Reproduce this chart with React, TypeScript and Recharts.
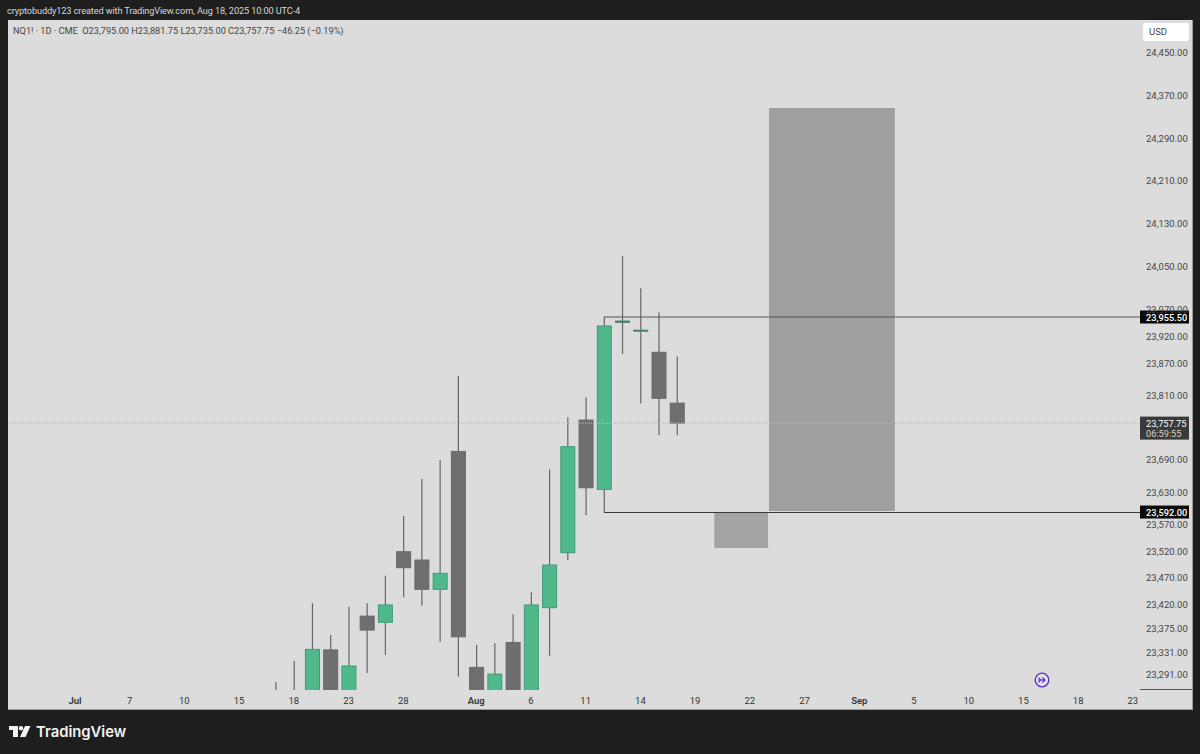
import { Bar, ComposedChart, ReferenceArea, ReferenceDot, ReferenceLine, XAxis, YAxis } from "recharts"

const FONT = "Roboto, sans-serif"

// one slot = one daily bar, slot 0 is Jul 1
const SLOTS = [11, 12, 13, 14, 15, 16, 17, 18, 19, 20, 21, 22, 23, 24, 25, 26, 27, 28, 29, 30, 31, 32, 33]
const OPENS = [23245, 23235, 23210, 23335, 23240, 23398, 23386.5, 23518, 23502.5, 23448, 23705, 23302.5, 23230, 23349, 23245, 23413.75, 23516.25, 23763.5, 23634.25, 23945.5, 23929, 23889.75, 23795]
const HIGHS = [23275, 23314.25, 23422, 23362.75, 23415.5, 23422.5, 23473.25, 23584.5, 23653.5, 23689, 23845.5, 23344, 23347.25, 23401.5, 23442.5, 23671.5, 23768.5, 23805.75, 23955.5, 24069.25, 24009, 23964.25, 23881.75]
const LOWS = [23220, 23195, 23190, 23225, 23215, 23292, 23325.5, 23433, 23417.5, 23350.25, 23285, 23200, 23215, 23215, 23230, 23324.25, 23502.5, 23586.5, 23592, 23886.5, 23794.5, 23735.5, 23735]
const CLOSES = [23235, 23225, 23336, 23240, 23305, 23372, 23418.75, 23488.25, 23448, 23477.75, 23359.5, 23235, 23290, 23240, 23418.75, 23493.25, 23713.75, 23637.25, 23938.75, 23948, 23931, 23804, 23757.75]

const X_TICKS = [0, 3, 6, 9, 12, 15, 18, 22, 25, 28, 31, 34, 37, 40, 43, 46, 49, 52, 55, 58]
const X_LABELS = ["Jul", "7", "10", "15", "18", "23", "28", "Aug", "6", "11", "14", "19", "22", "27", "Sep", "5", "10", "15", "18", "23"]
const Y_TICKS = [23291, 23331, 23375, 23420, 23470, 23520, 23570, 23630, 23690, 23810, 23870, 23920, 23970, 24050, 24130, 24210, 24290, 24370, 24450]

const X_MIN = -3.67
const X_MAX = 58.39
const Y_MIN = 23260.3
const Y_MAX = 24509.1

const LEVEL_HIGH = 23955.5
const LEVEL_LOW = 23592
const LAST_PRICE = 23757.75
const BOX_START = 29
const TARGET_ZONE = { x1: 38.05, x2: 44.95, y1: 23594, y2: 24345 }
const STOP_ZONE = { x1: 35.05, x2: 38, y1: 23525, y2: 23592 }

const candles = SLOTS.map((slot, i) => ({
  slot,
  open: OPENS[i],
  high: HIGHS[i],
  low: LOWS[i],
  close: CLOSES[i],
}))

const fmt = (v: number) => v.toLocaleString("en-US", { minimumFractionDigits: 2, maximumFractionDigits: 2 })

function Candle(props: any) {
  const { x, y, width, height, payload } = props
  const { open, high, low, close } = payload
  const top = Math.min(y, y + height)
  const unit = Math.abs(height) / (high - low)
  const yOf = (v: number) => top + (high - v) * unit
  const cx = x + width / 2
  const up = close >= open
  const bodyTop = yOf(Math.max(open, close))
  const bodyH = Math.max(1, yOf(Math.min(open, close)) - bodyTop)
  const doji = bodyH < 3
  const fill = doji ? "#4a8570" : up ? "#50b98c" : "#6f6f6f"
  const stroke = doji ? "#4a8570" : up ? "#3f9a76" : "#686868"
  return (
    <g>
      <line x1={cx} x2={cx} y1={yOf(high)} y2={yOf(low)} stroke="#666" strokeWidth={1.2} />
      <rect x={x + 0.5} y={bodyTop} width={width - 1} height={bodyH} fill={fill} stroke={stroke} strokeWidth={1} />
    </g>
  )
}

function XTick({ x, y, payload }: any) {
  const label = X_LABELS[X_TICKS.indexOf(payload.value)]
  return (
    <text x={x} y={y + 6} textAnchor="middle" fontSize={9.5} fontFamily={FONT} fill="#333" fontWeight={/[a-z]/.test(label) ? 600 : 400}>
      {label}
    </text>
  )
}

function YTick({ x, y, payload }: any) {
  return (
    <text x={x - 2} y={y + 4} fontSize={9.5} fontFamily={FONT} fill="#444">
      {fmt(payload.value)}
    </text>
  )
}

function CrispLine({ x1, x2, y1, stroke }: any) {
  const y = Math.round(y1) + 0.5
  return <line x1={x1} x2={x2} y1={y} y2={y} stroke={stroke} strokeWidth={1} />
}

function PriceTag({ cx, cy, value }: any) {
  return (
    <g fontFamily={FONT} fontSize={9.2} fontWeight={500}>
      <rect x={cx} y={cy - 6.5} width={49} height={13} fill="#0a0a0a" />
      <text x={cx + 6} y={cy + 3.5} fill="#fff">{fmt(value)}</text>
    </g>
  )
}

function LastTag({ cx, cy, value }: any) {
  return (
    <g fontFamily={FONT} fontSize={9.2}>
      <rect x={cx} y={cy - 6.5} width={49} height={23} fill="#3a3a3a" />
      <text x={cx + 6} y={cy + 3.5} fill="#fff">{fmt(value)}</text>
      <text x={cx + 6} y={cy + 13.5} fill="#d5d5d5">06:59:55</text>
    </g>
  )
}

function Logo() {
  return (
    <svg width={24} height={14} style={{ position: "absolute", left: 8, top: 725 }}>
      <path d="M1 1h9v11H5V5H1z" fill="#f2f2f2" />
      <circle cx={13} cy={3.2} r={2.2} fill="#f2f2f2" />
      <path d="M17 1h5.5L17.5 12H12z" fill="#f2f2f2" />
    </svg>
  )
}

function JumpIcon() {
  return (
    <svg width={16} height={16} style={{ position: "absolute", left: 1034, top: 672 }}>
      <circle cx={8} cy={8} r={6.8} fill="#e4e1ee" stroke="#5a35c4" strokeWidth={1.3} />
      <path d="M4.5 8h6.5M8.2 5.4L11 8 8.2 10.6M4.5 5.6L6.7 8 4.5 10.4" fill="none" stroke="#4a2ab8" strokeWidth={1.1} />
    </svg>
  )
}

export default function App() {
  return (
    <div style={{ position: "fixed", left: 0, top: 0, width: 1200, height: 754, background: "#1e1e1e", overflow: "hidden", fontFamily: FONT }}>
      <div style={{ position: "absolute", left: 7, top: 5, fontSize: 9.2, letterSpacing: -0.12, color: "#d8d8d8", whiteSpace: "nowrap" }}>
        cryptobuddy123 created with TradingView.com, Aug 18, 2025 10:00 UTC-4
      </div>
      <div style={{ position: "absolute", left: 8, top: 20, width: 1184, height: 689, background: "#dcdcdc", borderRight: "1px solid #9a9a9a", borderBottom: "1px solid #9a9a9a" }} />
      <div style={{ position: "absolute", left: 1140, top: 689, width: 52, height: 1, background: "#555" }} />
      <div style={{ position: "absolute", left: 13, top: 25, fontSize: 9.2, color: "#444", whiteSpace: "pre" }}>
        {"NQ1! · 1D · CME  O23,795.00 H23,881.75 L23,735.00 C23,757.75 −46.25 (−0.19%)"}
      </div>
      <div style={{ position: "absolute", left: 1143, top: 23, width: 40, height: 18, paddingLeft: 6, lineHeight: "18px", background: "#fff", borderRadius: 2, fontSize: 9.5, color: "#444" }}>
        USD
      </div>

      <div style={{ position: "absolute", left: 0, top: 0 }}>
        <ComposedChart width={1200} height={754} data={candles} margin={{ top: 20, right: 8, bottom: 44, left: 8 }}>
          <XAxis
            dataKey="slot"
            type="number"
            domain={[X_MIN, X_MAX]}
            allowDataOverflow
            ticks={X_TICKS}
            interval={0}
            tick={<XTick />}
            axisLine={false}
            tickLine={false}
            height={20}
          />
          <YAxis
            orientation="right"
            type="number"
            domain={[Y_MIN, Y_MAX]}
            allowDataOverflow
            ticks={Y_TICKS}
            interval={0}
            tick={<YTick />}
            axisLine={false}
            tickLine={false}
            width={52}
          />
          <ReferenceLine y={LAST_PRICE} stroke="#bdbdbd" strokeDasharray="1 1" />
          <ReferenceArea {...TARGET_ZONE} fill="#9f9f9f" fillOpacity={1} stroke="none" />
          <ReferenceArea {...STOP_ZONE} fill="#a4a4a4" fillOpacity={1} stroke="none" />
          <ReferenceLine segment={[{ x: BOX_START, y: LEVEL_HIGH }, { x: X_MAX, y: LEVEL_HIGH }]} stroke="#555" strokeWidth={1.2} />
          <ReferenceLine segment={[{ x: BOX_START, y: LEVEL_LOW }, { x: X_MAX, y: LEVEL_LOW }]} stroke="#3a3a3a" shape={<CrispLine stroke="#3a3a3a" />} />
          <Bar dataKey={(d: any) => [d.low, d.high]} barSize={15} shape={<Candle />} isAnimationActive={false} />
          <ReferenceDot x={X_MAX} y={LEVEL_HIGH} r={0} shape={<PriceTag value={LEVEL_HIGH} />} />
          <ReferenceDot x={X_MAX} y={LEVEL_LOW} r={0} shape={<PriceTag value={LEVEL_LOW} />} />
          <ReferenceDot x={X_MAX} y={LAST_PRICE} r={0} shape={<LastTag value={LAST_PRICE} />} />
        </ComposedChart>
      </div>

      <JumpIcon />
      <Logo />
      <div style={{ position: "absolute", left: 36, top: 723, fontFamily: "Inter, sans-serif", fontSize: 14.8, fontWeight: 600, color: "#f2f2f2" }}>
        TradingView
      </div>
    </div>
  )
}
